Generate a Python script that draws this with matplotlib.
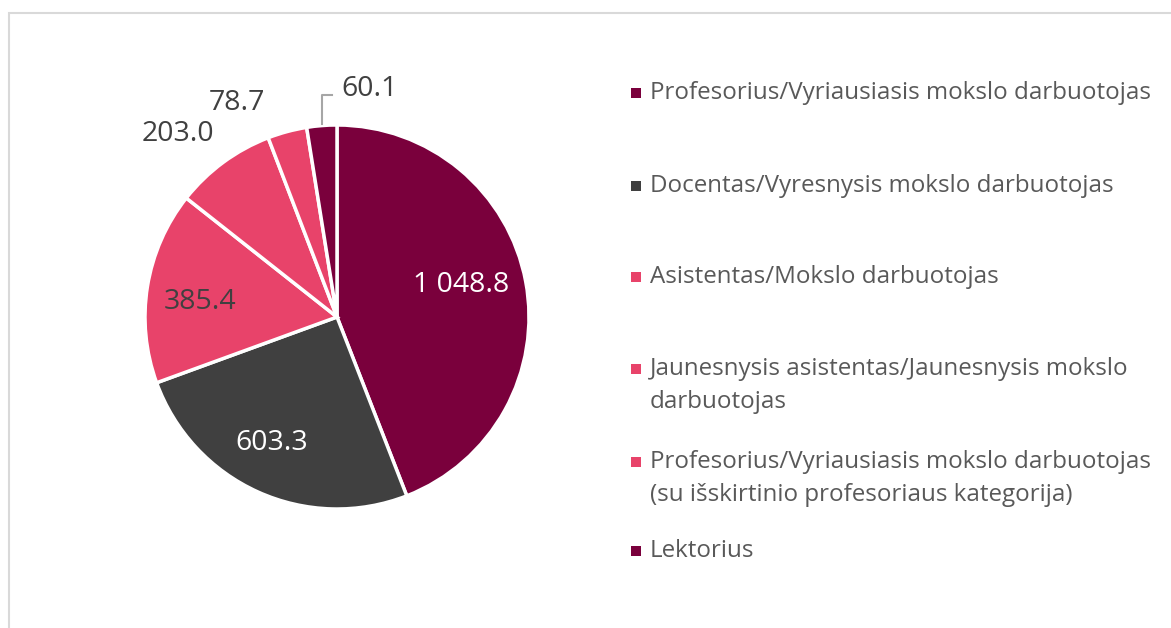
import numpy as np
import matplotlib
matplotlib.use("Agg")
import matplotlib.pyplot as plt
from matplotlib.patches import Rectangle

# Duomenys
kategorijos = [
    "Profesorius/Vyriausiasis mokslo darbuotojas",
    "Docentas/Vyresnysis mokslo darbuotojas",
    "Asistentas/Mokslo darbuotojas",
    "Jaunesnysis asistentas/Jaunesnysis mokslo\ndarbuotojas",
    "Profesorius/Vyriausiasis mokslo darbuotojas\n(su išskirtinio profesoriaus kategorija)",
    "Lektorius",
]
reiksmes = [1048.8, 603.3, 385.4, 203.0, 78.7, 60.1]
etiketes = ["1 048.8", "603.3", "385.4", "203.0", "78.7", "60.1"]

# Stilius
VYNO = "#7A003C"
PILKA = "#404040"
ROZINE = "#E8436A"
spalvos = [VYNO, PILKA, ROZINE, ROZINE, ROZINE, VYNO]
teksto_spalvos = ["white", "white", PILKA, PILKA, PILKA, PILKA]
# etikečių vieta: spindulys ir kampas (laipsniais)
etik_r = [0.67, 0.74, 0.72, 1.26, 1.23, 1.20]
etik_kampas = [14.4, -117.3, 173.8, 131.0, 115.0, 81.8]
legendos_y = [93, 186, 277, 369, 462, 551]  # pikseliais nuo viršaus

W, H = 1171, 628
plt.rcParams['font.family'] = ['Open Sans', 'DejaVu Sans']
fig = plt.figure(figsize=(W / 100, H / 100), dpi=100)

# rėmelis
fig.patches.append(Rectangle((9 / W, -0.1), 1.2, 1.1 - 13 / H, transform=fig.transFigure,
                             fill=False, edgecolor="#D9D9D9", linewidth=1.5))

cx, cy, R = 337, 317, 192
ax = fig.add_axes([(cx - R) / W, (H - cy - R) / H, 2 * R / W, 2 * R / H])
wedges, _ = ax.pie(reiksmes, colors=spalvos, startangle=90, counterclock=False,
                   radius=1.0, wedgeprops=dict(edgecolor="white", linewidth=2.5))
ax.set_xlim(-1, 1)
ax.set_ylim(-1, 1)
ax.set_aspect("equal")
ax.axis("off")

for txt, c, r, a in zip(etiketes, teksto_spalvos, etik_r, etik_kampas):
    ang = np.radians(a)
    ax.text(r * np.cos(ang), r * np.sin(ang), txt, color=c, fontsize=20.5,
            ha="center", va="center")

# išnašos linija prie 60.1
w = wedges[5]
mid = np.radians((w.theta1 + w.theta2) / 2)
x0 = np.cos(mid)
ax.plot([x0 + 0.055, x0, x0], [1.156, 1.156, 1.005],
        color="#A6A6A6", linewidth=1.5, clip_on=False)

# legenda
for lab, col, y in zip(kategorijos, spalvos, legendos_y):
    fig.patches.append(Rectangle((631 / W, 1 - (y + 5) / H), 10 / W, 10 / H,
                                 transform=fig.transFigure, facecolor=col, edgecolor="none"))
    for k, eil in enumerate(lab.split("\n")):
        fig.text(650 / W, 1 - (y + 33 * k) / H, eil, color="#595959", fontsize=17.4,
                 ha="left", va="center")

fig.savefig("out.png", dpi=100)
